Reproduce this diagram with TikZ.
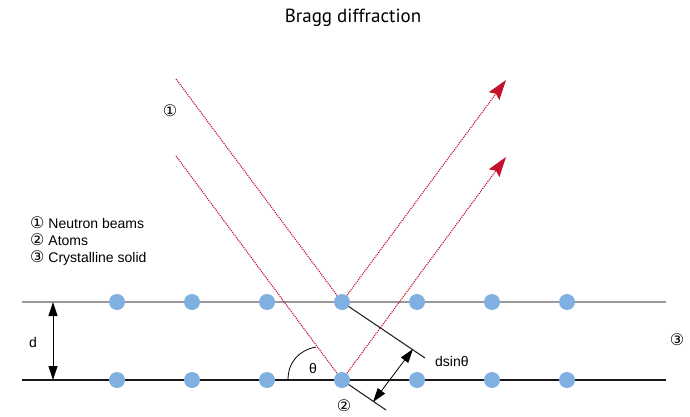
\documentclass[tikz,border=0pt]{standalone}
\usepackage{fontspec}
\setmainfont{Liberation Sans}
\newfontfamily\circfont{DejaVu Sans}
\newfontfamily\titlefont{PT Sans}
\usetikzlibrary{arrows.meta,backgrounds}
\definecolor{atomblue}{HTML}{80B0E2}
\definecolor{beamred}{HTML}{C4122C}
\definecolor{planegray}{HTML}{999999}
\newcommand{\circnum}[1]{{\circfont\fontsize{16}{17}\selectfont #1}}

\begin{document}
\begin{tikzpicture}[
  x=1pt, y=-1pt,
  font=\fontsize{14}{17}\selectfont,
  >={Triangle[length=14pt,width=9pt]},
  atom/.style={circle, fill=atomblue, minimum size=16pt, inner sep=0pt},
  plane/.style={line width=1.4pt},
  beam/.style={draw=beamred, densely dotted, line width=1.1pt},
  outgoing/.style={beam, -{Stealth[length=20pt,width=13pt,inset=3pt]}},
  guide/.style={draw=black!85, line width=1.1pt},
  measure/.style={<->, draw=black, line width=0.8pt},
  label/.style={inner sep=0pt},
  marker/.style={inner sep=0pt}
]
\useasboundingbox (0,0) rectangle (690,417);

\node[label, font=\titlefont\fontsize{19}{23}\selectfont] (title) at (353,18) {Bragg diffraction};

% lattice planes and atoms
\coordinate (topL) at (22,302);
\coordinate (topR) at (666,302);
\coordinate (botL) at (22,380);
\coordinate (botR) at (666,380);
\foreach \i/\x in {1/117,2/192,3/267,4/342,5/417,6/492,7/567} {
  \node[atom] (t\i) at (\x,302) {};
  \node[atom] (b\i) at (\x,380) {};
}

% beam ends
\coordinate (inA) at (176,79);
\coordinate (inB) at (176,156);
\coordinate (outA) at (506,80);
\coordinate (outB) at (506,157);
\coordinate (perpT) at (425,358);
\coordinate (perpB) at (386,410);
\coordinate (arrT) at (413,349);
\coordinate (arrB) at (373,402);

\begin{scope}[on background layer]
  \draw[plane, draw=planegray] (topL) -- (topR);
  \draw[plane, draw=black!90] (botL) -- (botR);
  \draw[beam] (inA) -- (t4.center);
  \draw[beam] (inB) -- (b4.center);
  \draw[outgoing] (t4.center) -- (outA);
  \draw[outgoing] (b4.center) -- (outB);
  \draw[guide] (t4.center) -- (perpT);
  \draw[guide] (b4.center) -- (perpB);
\end{scope}

\draw[measure] (arrB) -- (arrT);

% spacing d
\coordinate (dT) at (53,302);
\coordinate (dB) at (53,380);
\draw[measure] (dT) -- (dB);
\node[label] (dlab) at (33,342) {d};

% angle
\draw[line width=0.8pt] (288,380) .. controls (288,361) and (300,350) .. (316,347);
\node[label] (theta) at (313,368) {θ};
\node[label, anchor=west] (dsin) at (435,361) {dsinθ};

% markers
\node[marker] (m1) at (170,111) {\circnum{①}};
\node[marker] (m2) at (344,406) {\circnum{②}};
\node[marker] (m3) at (677,340) {\circnum{③}};

\node[label, anchor=west, align=left] (legend) at (30,241)
  {\circnum{①} Neutron beams\\\circnum{②} Atoms\\\circnum{③} Crystalline solid};
\end{tikzpicture}
\end{document}
